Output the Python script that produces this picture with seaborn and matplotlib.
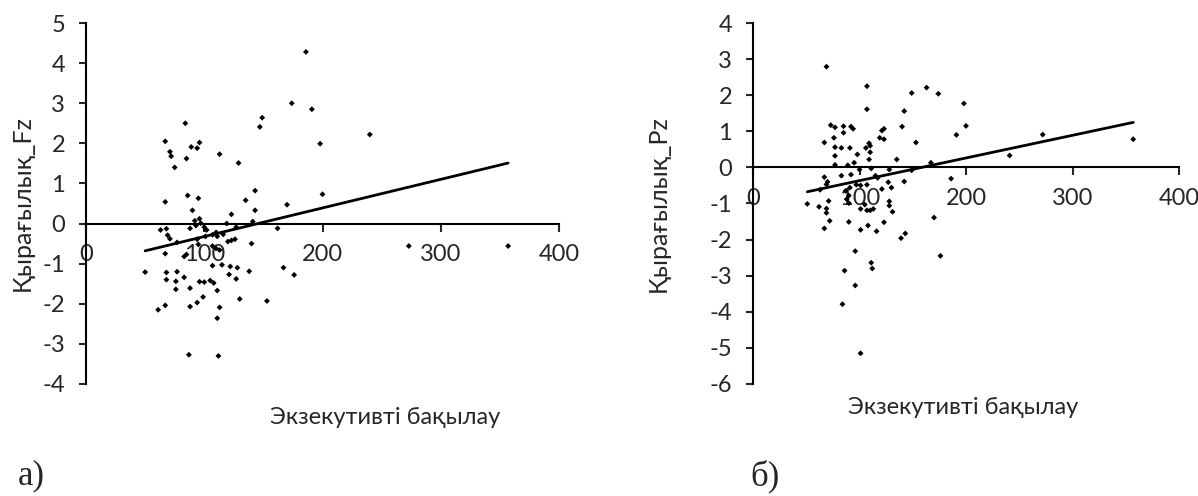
import numpy as np
import pandas as pd
import matplotlib
matplotlib.use("Agg")
import matplotlib.pyplot as plt
import seaborn as sns

# panel a) executive control vs vigilance Fz
fz_x = [186, 174, 191, 149, 147, 84, 240, 67, 96, 89, 94, 198, 71, 72, 113, 85, 75, 129, 143, 200,
        86, 95, 67, 135, 170, 90, 143, 123, 96, 92, 141, 119, 93, 63, 68, 88, 97, 100, 102, 127,
        162, 69, 71, 77, 94, 95, 101, 107, 110, 111, 116, 120, 123, 126, 140, 107, 110, 113, 67, 83,
        85, 273, 357, 50, 68, 77, 83, 115, 122, 128, 121, 127, 138, 107, 167, 176, 68, 76, 96, 100,
        105, 108, 76, 88, 111, 61, 67, 88, 94, 99, 130, 153, 113, 111, 87, 112]
fz_y = [4.28, 3.0, 2.85, 2.64, 2.41, 2.50, 2.22, 2.05, 2.02, 1.91, 1.88, 1.99, 1.79, 1.68, 1.73, 1.62, 1.40, 1.51, 0.82, 0.73,
        0.70, 0.63, 0.54, 0.58, 0.47, 0.33, 0.33, 0.23, 0.12, 0.07, 0.05, 0.0, -0.05, -0.16, -0.13, -0.12, 0.01, -0.09, -0.16, -0.09,
        -0.12, -0.29, -0.38, -0.47, -0.39, -0.52, -0.32, -0.28, -0.22, -0.32, -0.27, -0.45, -0.42, -0.39, -0.50, -0.56, -0.62, -0.66, -0.75, -0.82,
        -0.77, -0.56, -0.56, -1.21, -1.22, -1.20, -1.34, -1.03, -1.07, -1.10, -1.27, -1.38, -1.19, -1.05, -1.10, -1.28, -1.40, -1.44, -1.45, -1.46,
        -1.42, -1.48, -1.64, -1.61, -1.67, -2.15, -2.04, -2.07, -1.97, -1.83, -1.88, -1.93, -2.09, -2.36, -3.27, -3.30]
fz_slope = 0.00713
fz_intercept = -1.037

# panel б) executive control vs vigilance Pz
pz_x = [69, 107, 163, 149, 174, 107, 142, 198, 200, 73, 77, 85, 92, 94, 123, 121, 140, 85, 76, 119,
        123, 191, 272, 357, 67, 153, 109, 110, 106, 77, 83, 91, 110, 77, 98, 109, 135, 241, 77, 89,
        95, 167, 100, 111, 128, 149, 67, 83, 92, 115, 117, 186, 142, 127, 70, 69, 63, 91, 97, 101,
        107, 121, 130, 87, 90, 88, 90, 51, 62, 69, 69, 71, 101, 107, 110, 113, 105, 128, 128, 131,
        72, 90, 123, 67, 101, 108, 116, 139, 143, 170, 176, 96, 111, 112, 86, 96, 84, 101]
pz_y = [2.79, 2.25, 2.21, 2.06, 2.04, 1.61, 1.56, 1.77, 1.15, 1.17, 1.11, 1.14, 1.13, 1.07, 1.07, 1.02, 1.13, 0.96, 0.82, 0.82,
        0.78, 0.90, 0.91, 0.78, 0.69, 0.69, 0.67, 0.60, 0.54, 0.56, 0.54, 0.54, 0.42, 0.32, 0.36, 0.22, 0.22, 0.33, 0.07, 0.06,
        0.13, 0.13, -0.06, -0.03, -0.06, -0.08, -0.27, -0.23, -0.20, -0.23, -0.29, -0.31, -0.39, -0.41, -0.40, -0.47, -0.62, -0.56, -0.48, -0.50,
        -0.48, -0.60, -0.56, -0.65, -0.78, -0.88, -0.99, -1.01, -1.09, -1.14, -1.26, -0.93, -1.15, -1.19, -1.19, -1.15, -1.03, -0.94, -1.06, -1.23,
        -1.48, -1.51, -1.52, -1.69, -1.73, -1.61, -1.77, -1.96, -1.83, -1.39, -2.45, -2.32, -2.64, -2.80, -2.86, -3.27, -3.79, -5.15]
pz_slope = 0.00628
pz_intercept = -0.995

x_label = "Экзекутивті бақылау"
x_ticks = [0, 100, 200, 300, 400]

sns.set_style("white")
plt.rcParams['font.family'] = ['Lato', 'DejaVu Sans']
plt.rcParams['axes.unicode_minus'] = False

fig = plt.figure(figsize=(11.98, 4.96), dpi=100)
W, H = 1198, 496


def panel(rect, xs, ys, slope, intercept, ylabel, yticks, ylab_x):
    ax = fig.add_axes(rect)
    df = pd.DataFrame({"x": xs, "y": ys})
    sns.scatterplot(data=df, x="x", y="y", ax=ax, marker="D", s=9, color="black",
                    edgecolor="none", linewidth=0)
    tx = np.array([df.x.min(), df.x.max()])
    sns.lineplot(x=tx, y=intercept + slope * tx, ax=ax, color="black", lw=2.0)
    ax.set_xlim(0, 400)
    ax.set_ylim(yticks[0], yticks[-1])
    ax.set_xticks(x_ticks)
    ax.set_yticks(yticks)
    ax.spines['left'].set_position(('data', 0))
    ax.spines['bottom'].set_position(('data', 0))
    for s in ['top', 'right']:
        ax.spines[s].set_visible(False)
    for s in ['left', 'bottom']:
        ax.spines[s].set_linewidth(1.5)
        ax.spines[s].set_color('black')
    ax.tick_params(axis='x', direction='out', length=5.5, width=1.5, pad=9, labelsize=17)
    ax.tick_params(axis='y', direction='out', length=5, width=1.5, pad=10, labelsize=17)
    ax.tick_params(left=True, bottom=True)
    ax.set_xlabel("")
    ax.set_ylabel(ylabel, fontsize=18)
    ax.yaxis.set_label_coords(ylab_x, 0.5)
    ax.set_facecolor('white')
    return ax


panel([86 / W, (496 - 384) / H, 473 / W, 361 / H], fz_x, fz_y, fz_slope, fz_intercept,
      "Қырағылық_Fz", list(range(-4, 6)), -0.110)
panel([753 / W, (496 - 384) / H, 426 / W, 361 / H], pz_x, pz_y, pz_slope, pz_intercept,
      "Қырағылық_Pz", list(range(-6, 5)), -0.195)

fig.text(385 / W, 1 - 418 / H, x_label, ha='center', va='center', fontsize=17)
fig.text(963 / W, 1 - 407 / H, x_label, ha='center', va='center', fontsize=17)
fig.text(18 / W, 1 - 476 / H, "а)", ha='left', va='center', fontsize=25, family='Liberation Serif')
fig.text(750 / W, 1 - 476 / H, "б)", ha='left', va='center', fontsize=25, family='Liberation Serif')

fig.savefig("out.png", dpi=100, facecolor='white')
